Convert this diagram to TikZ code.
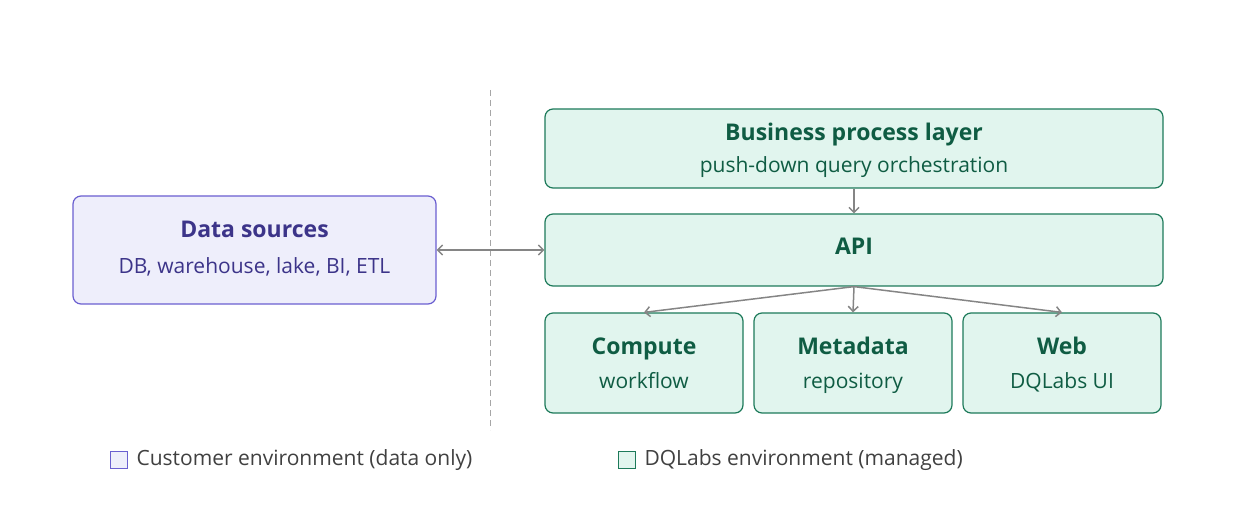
\documentclass[tikz,border=0pt]{standalone}
\usepackage{fontspec}
\setmainfont{Open Sans}
\usetikzlibrary{arrows.meta}
\definecolor{srcfill}{HTML}{EEEEFB}
\definecolor{srcdraw}{HTML}{6A5FD0}
\definecolor{srctext}{HTML}{3C3489}
\definecolor{dqfill}{HTML}{E1F5EE}
\definecolor{dqdraw}{HTML}{1D7A5A}
\definecolor{dqtext}{HTML}{0F5C43}
\definecolor{link}{HTML}{858585}
\tikzset{
  src box/.style={
    fill=srcfill,
    draw=srcdraw,
    line width=1.2pt,
    rounded corners=8pt,
  },
  dq box/.style={
    fill=dqfill,
    draw=dqdraw,
    line width=1.2pt,
    rounded corners=8pt,
  },
  title/.style={font=\bfseries\fontsize{23}{27}\selectfont, text height=17pt, text depth=5pt},
  sub/.style={font=\fontsize{21}{25}\selectfont, text height=15pt, text depth=5pt},
  link/.style={draw=link, line width=1.5pt, -{Straight Barb[length=5pt,width=10pt]}},
  legend/.style={anchor=west, text=black!75, font=\fontsize{21}{25}\selectfont},
}
\begin{document}
\begin{tikzpicture}[x=1pt,y=-1pt]
    \useasboundingbox (0,0) rectangle (1236,518);

    % environments divider
    \draw [gray!70, line width=1pt, dash pattern=on 6pt off 4pt] (490,90) -- (490,430);

    % customer side
    \node [src box, minimum width=363pt, minimum height=108pt] (src) at (254.5,250) {};
    \node [title, text=srctext] (srct) at (254.5,232) {Data sources};
    \node [sub, text=srctext] (srcs) at (254.5,269) {DB, warehouse, lake, BI, ETL};

    % DQLabs side
    \node [dq box, minimum width=618pt, minimum height=79pt] (bpl) at (854,148.5) {};
    \node [title, text=dqtext] at (854,135) {Business process layer};
    \node [sub, text=dqtext] at (854,168) {push-down query orchestration};

    \node [dq box, minimum width=618pt, minimum height=72pt] (api) at (854,250) {};
    \node [title, text=dqtext] at (854,249) {API};

    \node [dq box, minimum width=198pt, minimum height=100pt] (comp) at (644,363) {};
    \node [title, text=dqtext] at (644,348) {Compute};
    \node [sub, text=dqtext] at (644,383) {workflow};

    \node [dq box, minimum width=198pt, minimum height=100pt] (meta) at (853,363) {};
    \node [title, text=dqtext] at (853,348) {Metadata};
    \node [sub, text=dqtext] at (853,383) {repository};

    \node [dq box, minimum width=198pt, minimum height=100pt] (web) at (1062,363) {};
    \node [title, text=dqtext] at (1062,348) {Web};
    \node [sub, text=dqtext] at (1062,383) {DQLabs UI};

    % connectors
    \draw [link] (bpl.south) -- (api.north);
    \draw [link, {Straight Barb[length=5pt,width=10pt]}-{Straight Barb[length=5pt,width=10pt]}] (src.east) -- (api.west);
    \coordinate (fan) at (api.south);
    \draw [link] (fan) -- (comp.north);
    \draw [link] (fan) -- (meta.north);
    \draw [link] (fan) -- (web.north);

    % legend
    \node [draw=srcdraw, fill=srcfill, line width=1.2pt, minimum size=17pt, inner sep=0pt] (lsrc) at (119,460) {};
    \node [legend] at (133,460) {Customer environment (data only)};
    \node [draw=dqdraw, fill=dqfill, line width=1.2pt, minimum size=17pt, inner sep=0pt] (ldq) at (627,460) {};
    \node [legend] at (641,460) {DQLabs environment (managed)};
\end{tikzpicture}
\end{document}
